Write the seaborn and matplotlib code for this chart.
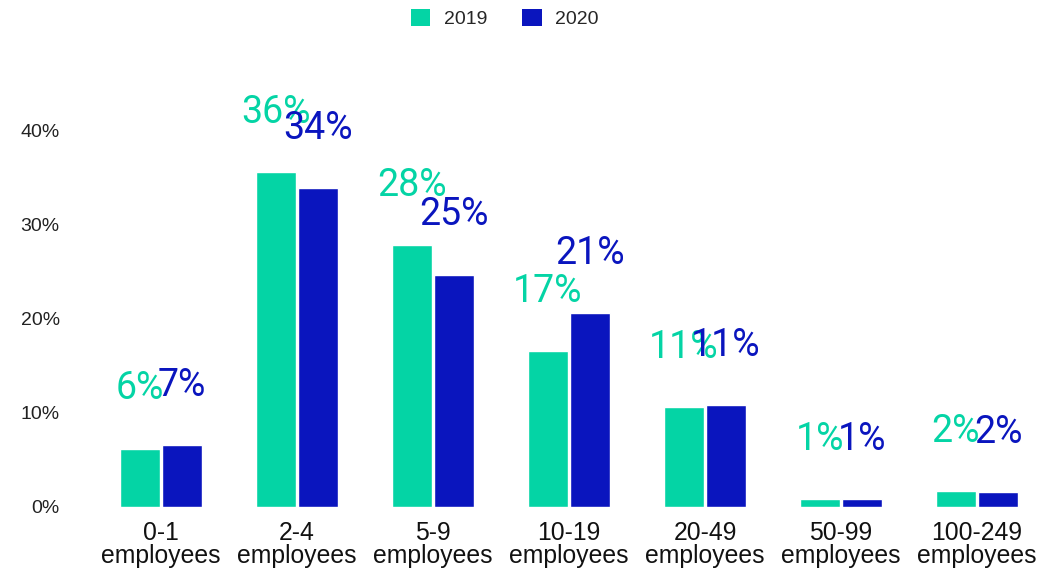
import matplotlib
matplotlib.use("Agg")
import matplotlib.pyplot as plt
import seaborn as sns
import pandas as pd
from matplotlib.patches import Patch

# Share of companies by employee count
categories = ["0-1\nemployees", "2-4\nemployees", "5-9\nemployees", "10-19\nemployees",
              "20-49\nemployees", "50-99\nemployees", "100-249\nemployees"]
share_2019 = [6.2, 35.6, 27.8, 16.6, 10.6, 0.8, 1.7]
share_2020 = [6.6, 33.9, 24.7, 20.6, 10.8, 0.8, 1.6]
years = ["2019", "2020"]
colors = {"2019": "#04D4A5", "2020": "#0A15BE"}
yticks = [0, 10, 20, 30, 40]

df = pd.DataFrame({
    "category": categories * 2,
    "year": [years[0]] * len(categories) + [years[1]] * len(categories),
    "share": share_2019 + share_2020,
})

sns.set_theme(style="white")
plt.rcParams["font.family"] = ["Liberation Sans", "DejaVu Sans"]

fig = plt.figure(figsize=(10.63, 5.71), dpi=100)
ax = fig.add_axes([0.0875, 0.1121, 0.8956, 0.7828])

sns.barplot(data=df, x="category", y="share", hue="year", order=categories,
            hue_order=years, palette=colors, width=0.62, gap=0.05,
            saturation=1, legend=False, ax=ax)

ax.set_ylim(0, 47.5)
ax.set_xlim(-0.5, len(categories) - 0.5)
ax.set_yticks(yticks)
ax.set_yticklabels([f"{v}%" for v in yticks], fontsize=14, color="#222222")
ax.tick_params(axis="y", length=0, pad=24)
ax.tick_params(axis="x", length=0, pad=10, labelsize=17.8, labelcolor="#111111")
for lbl in ax.get_xticklabels():
    lbl.set_linespacing(0.95)
ax.set_xlabel("")
ax.set_ylabel("")
sns.despine(ax=ax, left=True, bottom=True)

# Value labels floating above each bar
for container, year in zip(ax.containers, years):
    for bar in container:
        h = bar.get_height()
        ax.annotate(f"{round(h)}%", (bar.get_x() + bar.get_width() / 2, h),
                    xytext=(0, 43), textcoords="offset points",
                    ha="center", va="center", fontsize=27,
                    color=colors[year], family=["Roboto", "DejaVu Sans"])

handles = [Patch(facecolor=colors[y], edgecolor="none") for y in years]
fig.legend(handles, years, loc="center", bbox_to_anchor=(0.475, 0.968), ncol=2,
           frameon=False, fontsize=14, handlelength=1.0, handleheight=1.0,
           handletextpad=0.7, columnspacing=1.8)

fig.savefig("out.png", dpi=100)
